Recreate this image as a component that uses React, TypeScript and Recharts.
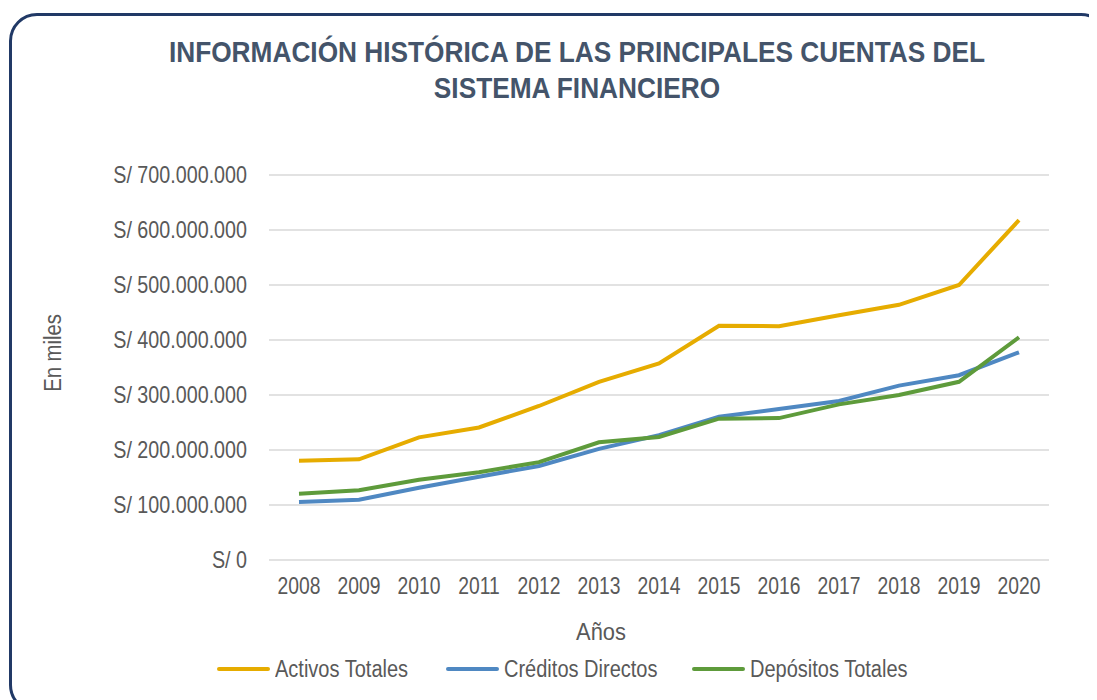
import React from "react";
import { LineChart, Line, XAxis, YAxis, CartesianGrid } from "recharts";

const years = ["2008", "2009", "2010", "2011", "2012", "2013", "2014", "2015", "2016", "2017", "2018", "2019", "2020"];
// valores en miles de soles
const activosTotales = [180600000, 183000000, 223000000, 241000000, 280000000, 324000000, 357500000, 426000000, 425000000, 445000000, 464000000, 500000000, 618000000];
const creditosDirectos = [105500000, 109700000, 131500000, 151500000, 171000000, 202000000, 227000000, 260600000, 274500000, 289000000, 317000000, 336000000, 377600000];
const depositosTotales = [120600000, 126700000, 146000000, 159400000, 178000000, 214000000, 223600000, 257000000, 258000000, 283000000, 300000000, 324000000, 405000000];
const yTicks = [0, 100000000, 200000000, 300000000, 400000000, 500000000, 600000000, 700000000];

const series = [
  { key: "activos", name: "Activos Totales", color: "#E6AC00", values: activosTotales },
  { key: "creditos", name: "Créditos Directos", color: "#4F88C2", values: creditosDirectos },
  { key: "depositos", name: "Depósitos Totales", color: "#5E9B3B", values: depositosTotales },
];

const data = years.map((y, i) => ({
  year: y,
  activos: activosTotales[i],
  creditos: creditosDirectos[i],
  depositos: depositosTotales[i],
}));

// no narrow font available, so squeeze Liberation Sans horizontally
const FONT = '"Liberation Sans", Arial, sans-serif';
const TEXT = "#595959";
const legendLeft = [209, 438, 684];

function soles(v: number) {
  return "S/ " + String(v).replace(/\B(?=(\d{3})+(?!\d))/g, ".");
}

function YTick(props: any) {
  const { x, y, payload } = props;
  return (
    <g transform={`translate(${x},${y})`}>
      <text transform="scale(0.858,1)" textAnchor="end" dy="0.355em" fill={TEXT} fontSize={23} fontFamily={FONT}>
        {soles(payload.value)}
      </text>
    </g>
  );
}

function XTick(props: any) {
  const { x, y, payload } = props;
  return (
    <g transform={`translate(${x},${y})`}>
      <text transform="scale(0.84,1)" textAnchor="middle" dy="0.71em" fill={TEXT} fontSize={23} fontFamily={FONT}>
        {payload.value}
      </text>
    </g>
  );
}

const label: React.CSSProperties = {
  position: "absolute",
  whiteSpace: "nowrap",
  fontSize: 23,
  color: TEXT,
};

export default function App() {
  return (
    <div style={{ position: "relative", width: 1089, height: 692, overflow: "hidden", fontFamily: FONT, background: "#fff" }}>
      <div
        style={{
          position: "absolute",
          left: 1,
          top: 5,
          width: 1100,
          height: 700,
          border: "3px solid #213966",
          borderRadius: 28,
          boxSizing: "border-box",
        }}
      />
      <div
        style={{
          position: "absolute",
          left: 69,
          top: 26,
          width: 1000,
          textAlign: "center",
          fontSize: 30,
          lineHeight: "36px",
          fontWeight: 700,
          color: "#44546A",
          whiteSpace: "nowrap",
          transform: "scaleX(0.875)",
          transformOrigin: "50% 50%",
        }}
      >
        INFORMACIÓN HISTÓRICA DE LAS PRINCIPALES CUENTAS DEL
        <br />
        SISTEMA FINANCIERO
      </div>

      <div style={{ position: "absolute", left: 0, top: 0 }}>
        <LineChart width={1089} height={692} data={data} margin={{ top: 167, right: 48, bottom: 90, left: 0 }}>
          <CartesianGrid vertical={false} stroke="#D9D9D9" strokeWidth={1.5} />
          <XAxis
            dataKey="year"
            scale="band"
            height={50}
            axisLine={false}
            tickLine={false}
            tickSize={0}
            tickMargin={18}
            tick={<XTick />}
            interval={0}
          />
          <YAxis
            width={261}
            domain={[0, 700000000]}
            ticks={yTicks}
            axisLine={false}
            tickLine={false}
            tickSize={0}
            tickMargin={22}
            tick={<YTick />}
          />
          {series.map((s) => (
            <Line
              key={s.key}
              dataKey={s.key}
              name={s.name}
              stroke={s.color}
              strokeWidth={4}
              dot={false}
              activeDot={false}
              isAnimationActive={false}
            />
          ))}
        </LineChart>
      </div>

      <div style={{ ...label, left: 45, top: 345, transform: "translate(-50%, -50%) rotate(-90deg) scaleX(0.88)" }}>
        En miles
      </div>
      <div style={{ ...label, left: 593, top: 624, transform: "translate(-50%, -50%) scaleX(0.95)" }}>
        Años
      </div>

      {series.map((s, i) => (
        <div
          key={s.key}
          style={{ ...label, left: legendLeft[i], top: 646, height: 30, display: "flex", alignItems: "center" }}
        >
          <span style={{ display: "inline-block", width: 53, height: 4, borderRadius: 2, background: s.color, marginRight: 5 }} />
          <span style={{ display: "inline-block", transform: "scaleX(0.87)", transformOrigin: "0 50%" }}>{s.name}</span>
        </div>
      ))}
    </div>
  );
}
